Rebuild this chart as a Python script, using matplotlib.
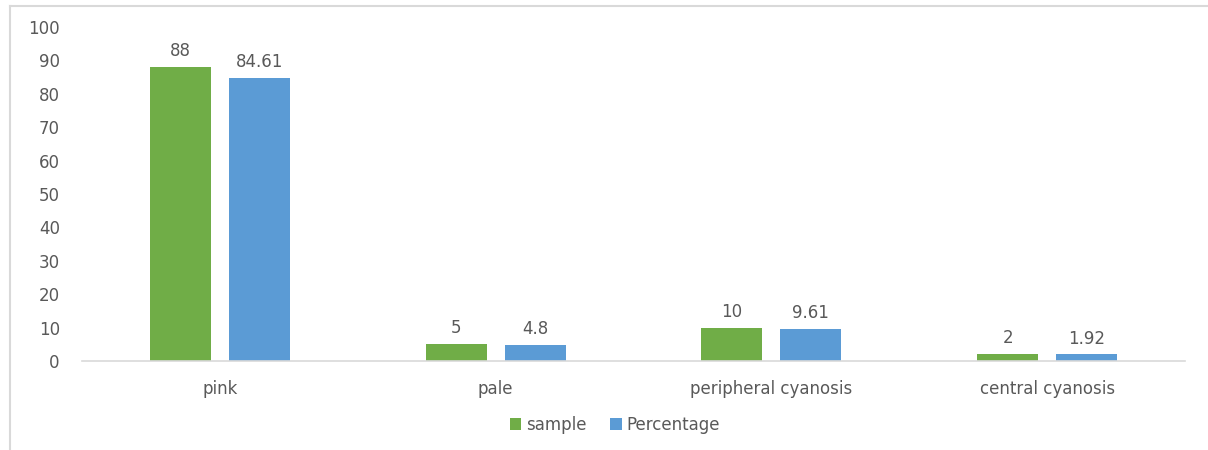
import matplotlib
matplotlib.use("Agg")
import matplotlib.pyplot as plt
import numpy as np
from matplotlib.lines import Line2D

categories = ["pink", "pale", "peripheral cyanosis", "central cyanosis"]
sample = [88, 5, 10, 2]
percentage = [84.61, 4.8, 9.61, 1.92]
sample_labels = ["88", "5", "10", "2"]
percentage_labels = ["84.61", "4.8", "9.61", "1.92"]
series_names = ["sample", "Percentage"]
colors = ["#70ad47", "#5b9bd5"]
text_color = "#595959"

plt.rcParams["font.family"] = ["DejaVu Sans"]
fs = 12

fig = plt.figure(figsize=(12.08, 4.5), dpi=100)
ax = fig.add_axes([0.0679, 0.198, 0.913, 0.742])

x = np.arange(len(categories))
width = 0.221
offset = 0.143

b1 = ax.bar(x - offset, sample, width, color=colors[0], label=series_names[0])
b2 = ax.bar(x + offset, percentage, width, color=colors[1], label=series_names[1])

for bars, labels in ((b1, sample_labels), (b2, percentage_labels)):
    for rect, lab in zip(bars, labels):
        ax.annotate(lab, (rect.get_x() + rect.get_width() / 2, rect.get_height()),
                    xytext=(0, 5), textcoords="offset points",
                    ha="center", va="bottom", fontsize=fs, color=text_color)

ax.set_xlim(-0.5, len(categories) - 0.5)
ax.set_ylim(0, 100)
ax.set_yticks(np.arange(0, 101, 10))
ax.set_xticks(x)
ax.set_xticklabels(categories)
ax.tick_params(axis="both", length=0, labelsize=fs, colors=text_color)
ax.tick_params(axis="y", pad=16)
ax.tick_params(axis="x", pad=14)

for side in ("top", "right", "left"):
    ax.spines[side].set_visible(False)
ax.spines["bottom"].set_color("#d9d9d9")
ax.spines["bottom"].set_linewidth(1.2)

leg = fig.legend(loc="center", bbox_to_anchor=(0.509, 0.056), ncol=2, frameon=False,
                 fontsize=fs, handlelength=0.7, handleheight=0.7, handletextpad=0.3,
                 columnspacing=1.4)
for t in leg.get_texts():
    t.set_color(text_color)

# outer chart frame (top and left edges)
fig.add_artist(Line2D([10 / 1208, 1.0], [1 - 6 / 450, 1 - 6 / 450],
                      transform=fig.transFigure, color="#d9d9d9", linewidth=1.5))
fig.add_artist(Line2D([10 / 1208, 10 / 1208], [0.0, 1 - 6 / 450],
                      transform=fig.transFigure, color="#d9d9d9", linewidth=1.5))

fig.savefig("out.png", dpi=100, facecolor="white")
